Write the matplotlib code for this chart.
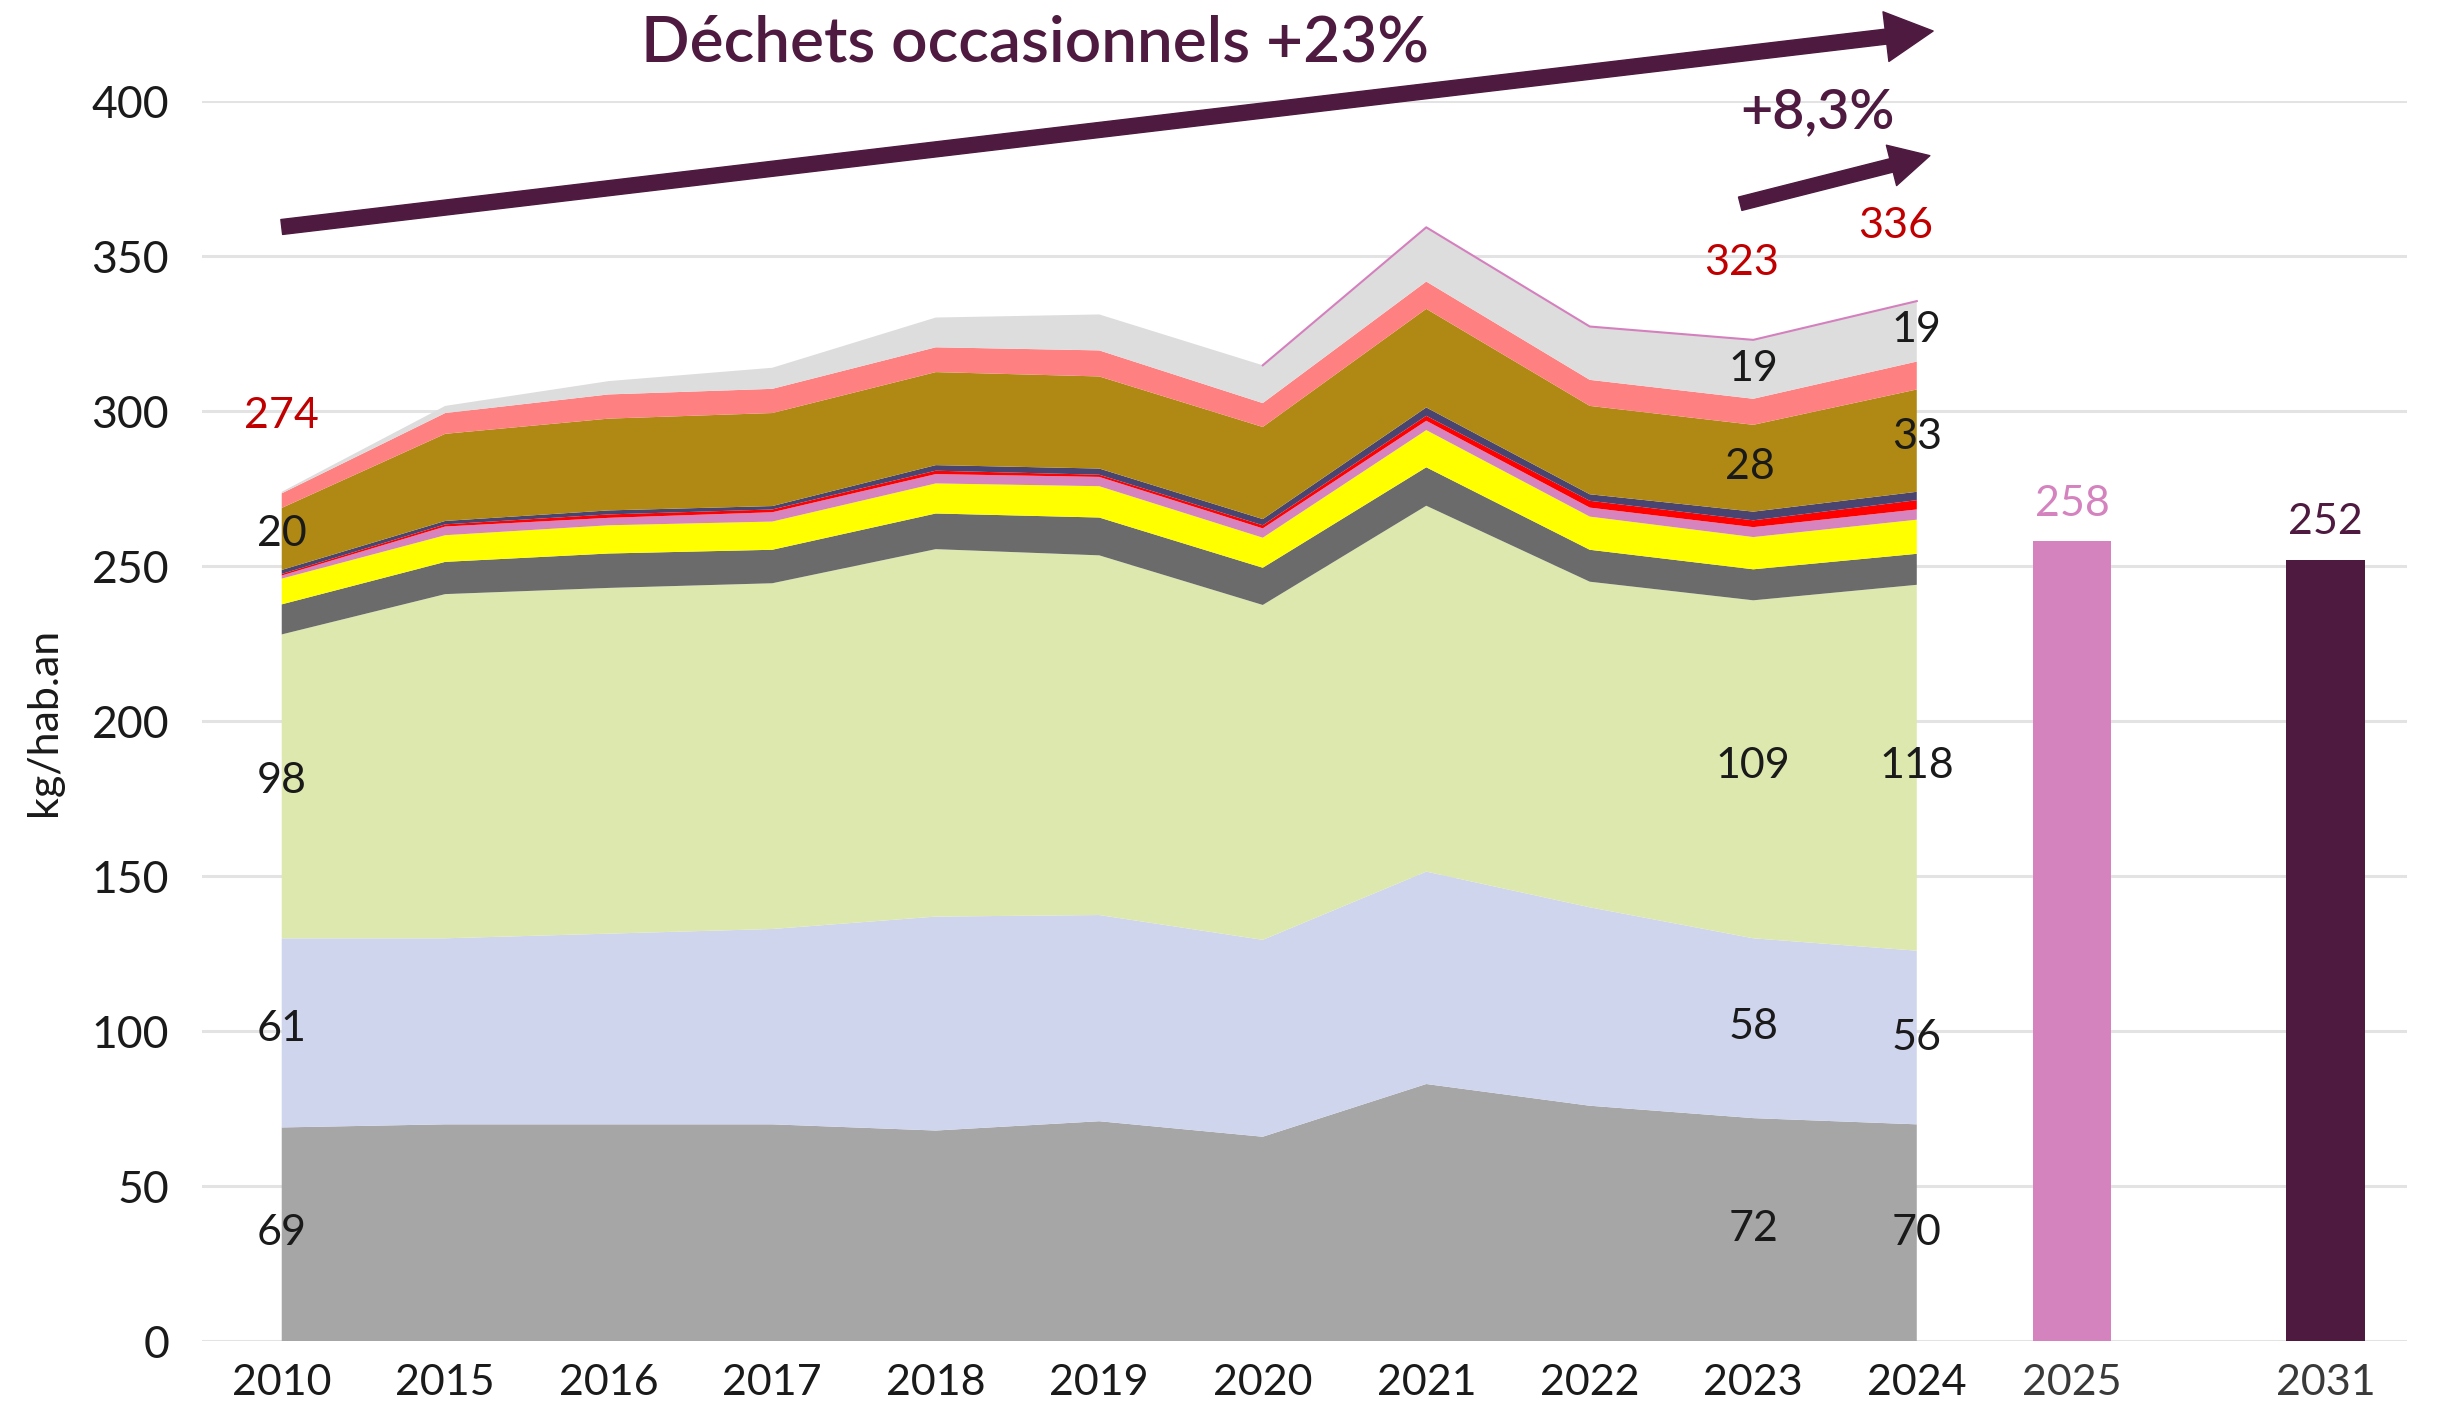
import matplotlib
matplotlib.use("Agg")
import matplotlib.pyplot as plt
from matplotlib.patches import FancyArrowPatch
import numpy as np

plt.rcParams['font.family'] = ['Lato', 'DejaVu Sans']

# ---------------- data ----------------
years = ["2010", "2015", "2016", "2017", "2018", "2019", "2020", "2021", "2022", "2023", "2024"]
ordures_residuelles = [69, 70, 70, 70, 68, 71, 66, 83, 76, 72, 70]
collecte_selective = [61, 60, 61.5, 63, 69, 66.5, 63.5, 68.5, 64, 58, 56]
dechets_verts = [98, 111, 111.5, 111.5, 118.5, 116, 108, 118, 105, 109, 118]
gravats = [9.7, 10.4, 11.1, 10.8, 11.5, 12.2, 12, 12.4, 10.3, 10, 10]
bois = [8.3, 8.6, 9.1, 9.1, 9.7, 10.1, 9.7, 12, 10.7, 10.4, 11]
deee = [1, 2.8, 2.4, 3, 3, 3, 3, 3, 2.9, 3.2, 3.3]
dds = [0.5, 0.7, 1.1, 0.9, 1.1, 0.7, 1, 1.6, 2.2, 2.2, 3]
ameublement = [1.3, 1.1, 1.3, 1.1, 1.8, 2, 2, 2.7, 2.1, 2.8, 2.7]
encombrants = [20, 28.1, 29.6, 30, 30, 29.7, 29.7, 31.8, 28.5, 28, 33]
ferraille = [4.7, 6.7, 7.8, 7.8, 8, 8.4, 7.7, 8.8, 8.4, 8.4, 9]
autres = [0.5, 2.3, 4.3, 6.8, 9.6, 11.6, 12.2, 17.5, 17.2, 19, 19.5]
totals_labels = {"2010": "274", "2023": "323", "2024": "336"}

target_years = ["2025", "2031"]
target_values = [258, 252]

layers = [ordures_residuelles, collecte_selective, dechets_verts, gravats, bois,
          deee, dds, ameublement, encombrants, ferraille, autres]
colors = ["#a6a6a6", "#d0d5ee", "#dde8ae", "#6b6b6b", "#ffff00",
          "#d683be", "#ff0000", "#4a4470", "#b08914", "#ff8080", "#dddddd"]

# ---------------- figure ----------------
fig = plt.figure(figsize=(24.39, 14.16), dpi=100)
ax = fig.add_axes([0.083, 0.0527, 0.904, 0.8759])

x = np.arange(len(years))
ax.stackplot(x, *layers, colors=colors, linewidth=0, zorder=2)
total = np.sum(np.array(layers), axis=0)
# thin outline on top of the stack (recent years)
ax.plot(x[6:], total[6:], color="#d580be", lw=1.5, zorder=3)

# target bars
x_targets = [10.95, 12.5]
bar_colors = ["#d583bf", "#4e1a40"]
ax.bar(x_targets, target_values, width=0.48, color=bar_colors, zorder=2)
for xt, v, c in zip(x_targets, target_values, bar_colors):
    ax.text(xt, v + 6, str(v), ha="center", va="bottom", fontsize=31, color=c)

ax.set_xlim(-0.485, 13.0)
ax.set_ylim(0, 400)
ax.set_yticks(np.arange(0, 401, 50))
ax.yaxis.grid(True, color="#e3e3e3", lw=2.2, zorder=0)
ax.set_axisbelow(True)
for s in ax.spines.values():
    s.set_visible(False)
ax.set_xticks(list(x) + x_targets)
ax.set_xticklabels(years + target_years)
ax.tick_params(axis="x", length=0, pad=16, labelsize=31, labelcolor="#1a1a1a")
ax.tick_params(axis="y", length=0, pad=24, labelsize=32, labelcolor="#1a1a1a")
for lab in ax.get_xticklabels()[-2:]:
    lab.set_color("#3a3a3a")
fig.text(0.018, 0.49, "kg/hab.an", rotation=90, ha="center", va="center",
         fontsize=31, color="#1a1a1a")

# value labels (black)
lab_kw = dict(ha="center", va="center", fontsize=31, color="#1a1a1a", zorder=5)
ax.text(0, 260.5, "20", **lab_kw)
ax.text(0, 180.7, "98", **lab_kw)
ax.text(0, 100.9, "61", **lab_kw)
ax.text(0, 35.1, "69", **lab_kw)
ax.text(9.0, 313.7, "19", **lab_kw)
ax.text(8.98, 282, "28", **lab_kw)
ax.text(9.0, 185.7, "109", **lab_kw)
ax.text(9.0, 101.4, "58", **lab_kw)
ax.text(9.0, 36.1, "72", **lab_kw)
ax.text(10.0, 326.2, "19", **lab_kw)
ax.text(10.0, 291.6, "33", **lab_kw)
ax.text(10.0, 185.7, "118", **lab_kw)
ax.text(10.0, 97.9, "56", **lab_kw)
ax.text(10.0, 35.1, "70", **lab_kw)

# total labels (red)
red_kw = dict(ha="center", va="center", fontsize=31, color="#c00000", zorder=5)
ax.text(0, 298.6, totals_labels["2010"], **red_kw)
ax.text(8.93, 347.8, totals_labels["2023"], **red_kw)
ax.text(9.87, 359.8, totals_labels["2024"], **red_kw)

# arrows and annotations
purple = "#4e1a40"
a1 = FancyArrowPatch((0.0, 359.4), (10.1, 422.6),
                     arrowstyle="simple,head_width=1.0,head_length=0.95,tail_width=0.3",
                     mutation_scale=36, color=purple, shrinkA=0, shrinkB=0,
                     clip_on=False, zorder=6)
ax.add_patch(a1)
a2 = FancyArrowPatch((8.92, 366.9), (10.08, 382.4),
                     arrowstyle="simple,head_width=1.0,head_length=0.95,tail_width=0.33",
                     mutation_scale=30, color=purple, shrinkA=0, shrinkB=0,
                     clip_on=False, zorder=6)
ax.add_patch(a2)
ax.text(4.61, 418.6, "Déchets occasionnels +23%", ha="center", va="center",
        fontsize=46, fontweight="semibold", color=purple, clip_on=False)
ax.text(9.39, 396.5, "+8,3%", ha="center", va="center",
        fontsize=40, fontweight="semibold", color=purple, clip_on=False)

fig.savefig("out.png", dpi=100, facecolor="white")
